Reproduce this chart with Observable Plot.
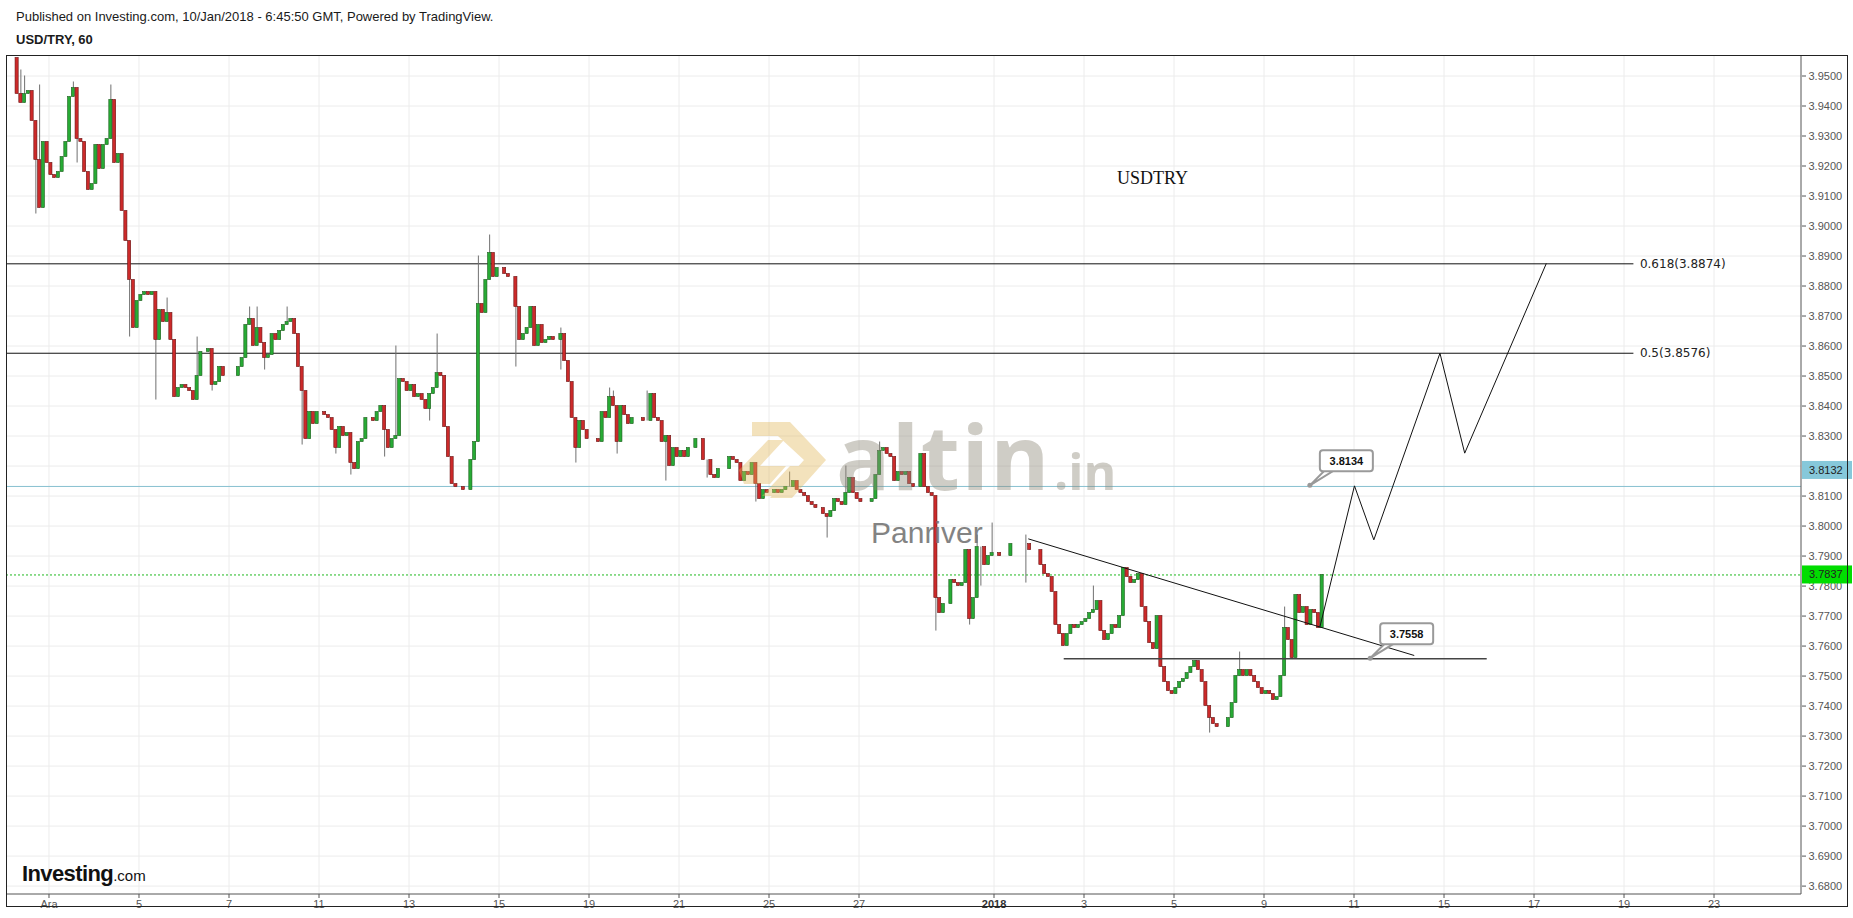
<!DOCTYPE html>
<html>
<head>
<meta charset="utf-8">
<script src="https://cdn.jsdelivr.net/npm/d3@7"></script>
<script src="https://cdn.jsdelivr.net/npm/@observablehq/plot@0.6"></script>
<style>
  html,body{margin:0;padding:0;background:#fff;}
  body{position:relative;width:1853px;height:918px;overflow:hidden;font-family:"Liberation Sans",Arial,sans-serif;}
  #chart{position:absolute;left:0;top:0;}
  .hdr{position:absolute;left:16px;font-size:13px;color:#1a1a1a;white-space:nowrap;}
  #frame{position:absolute;left:6px;top:55px;width:1840px;height:850px;border:1px solid #222;pointer-events:none;}
  #logo{position:absolute;left:22px;top:861px;color:#111;white-space:nowrap;}
</style>
</head>
<body>
<div id="chart"></div>
<div id="frame"></div>
<div class="hdr" style="top:9px">Published on Investing.com, 10/Jan/2018 - 6:45:50 GMT, Powered by TradingView.</div>
<div class="hdr" style="top:32px;font-weight:bold">USD/TRY, 60</div>
<div id="logo"><span style="font-weight:bold;font-size:22px;letter-spacing:-0.6px">Investing</span><span style="font-size:15px">.com</span></div>
<script>
// ---------- DATA ----------
// x axis: trading-day index (weekends removed), 0 = 1 Dec 2017
const tickDays   = [0, 2, 4, 6, 8, 10, 12, 14, 16, 18, 21, 23, 25, 27, 29, 31, 33, 35, 37];
const tickLabels = ["Ara","5","7","11","13","15","19","21","25","27","2018","3","5","9","11","15","17","19","23"];
const priceTicks = [3.68,3.69,3.70,3.71,3.72,3.73,3.74,3.75,3.76,3.77,3.78,3.79,3.80,3.81,3.82,3.83,3.84,3.85,3.86,3.87,3.88,3.89,3.90,3.91,3.92,3.93,3.94,3.95];
const hiddenTick = 3.82; // covered by the 3.8132 price box

// 2-hour candles, first one starts 30 Nov 06:00 (day -0.75)
const firstDay = -0.75;
const firstOpen = 3.956;
const closes = [
  3.944,3.941,3.944,3.945,3.935,3.922,3.906,3.928,3.921,                   // 30 Nov
  3.917,3.916,3.918,3.923,3.928,3.943,3.946,3.929,3.928,3.918,3.912,3.914, // 1 Dec
  3.927,3.919,3.927,3.929,3.942,3.921,3.924,3.905,3.895,3.882,3.866,3.875, // 4
  3.877,3.878,3.877,3.878,3.862,3.872,3.868,3.871,3.862,3.843,3.846,3.847, // 5
  3.846,3.845,3.842,3.850,3.858,3.858,3.859,3.847,3.848,3.853,3.850,3.850, // 6
  3.850,3.850,3.853,3.856,3.867,3.869,3.860,3.866,3.861,3.856,3.857,3.864, // 7
  3.862,3.865,3.867,3.868,3.869,3.864,3.853,3.845,3.829,3.838,3.834,3.838, // 8
  3.838,3.837,3.836,3.832,3.826,3.833,3.830,3.831,3.821,3.819,3.828,3.829, // 11
  3.836,3.836,3.835,3.838,3.840,3.832,3.826,3.829,3.830,3.849,3.848,3.845, // 12
  3.847,3.843,3.844,3.842,3.839,3.844,3.846,3.851,3.850,3.833,3.823,3.814, // 13
  3.813,3.813,3.812,3.812,3.822,3.828,3.874,3.871,3.882,3.891,3.883,3.886, // 14
  3.886,3.884,3.883,3.883,3.873,3.862,3.864,3.866,3.873,3.860,3.867,3.861, // 15
  3.862,3.863,3.862,3.862,3.864,3.855,3.848,3.836,3.826,3.835,3.832,3.829, // 18
  3.829,3.829,3.828,3.838,3.836,3.843,3.840,3.828,3.840,3.837,3.834,3.836, // 19
  3.836,3.836,3.835,3.835,3.844,3.836,3.835,3.828,3.830,3.820,3.826,3.823, // 20
  3.825,3.823,3.826,3.826,3.829,3.829,3.822,3.822,3.817,3.816,3.819,3.819, // 21
  3.819,3.823,3.822,3.821,3.815,3.818,3.817,3.821,3.814,3.809,3.812,3.811, // 22
  3.811,3.812,3.811,3.812,3.813,3.813,3.815,3.812,3.811,3.810,3.808,3.807, // 25
  3.806,3.806,3.804,3.803,3.805,3.809,3.808,3.807,3.811,3.816,3.811,3.809, // 26
  3.808,3.808,3.808,3.809,3.817,3.825,3.826,3.824,3.823,3.815,3.818,3.817, // 27
  3.818,3.814,3.813,3.813,3.824,3.813,3.811,3.810,3.776,3.771,3.774,3.774, // 28
  3.782,3.781,3.780,3.781,3.792,3.769,3.776,3.793,3.793,3.787,3.790,3.791, // 29
  3.791,3.790,3.790,3.790,3.794,3.794,3.794,3.794,3.794,3.792,3.792,3.792, // 1 Jan
  3.787,3.784,3.783,3.778,3.767,3.764,3.760,3.764,3.767,3.766,3.767,3.768, // 2
  3.769,3.771,3.772,3.775,3.765,3.762,3.764,3.767,3.766,3.770,3.786,3.783, // 3
  3.781,3.782,3.784,3.773,3.768,3.761,3.759,3.770,3.753,3.748,3.745,3.744, // 4
  3.746,3.748,3.749,3.751,3.753,3.755,3.752,3.748,3.740,3.736,3.734,3.733, // 5
  3.733,3.733,3.736,3.741,3.750,3.752,3.750,3.752,3.750,3.748,3.746,3.744, // 8
  3.745,3.744,3.742,3.743,3.750,3.766,3.762,3.756,3.777,3.771,3.773,3.767, // 9
  3.772,3.771,3.766,3.7837                                                  // 10 Jan
];
// notable wicks: [candle index, price]
const wickHigh = [[1,3.952],[2,3.950],[6,3.947],[15,3.948],[25,3.947],[40,3.876],[48,3.863],[62,3.873],[64,3.873],[72,3.873],[101,3.860],[112,3.864],[123,3.890],[126,3.897],[145,3.866],[158,3.846],[159,3.845],[168,3.845],[206,3.818],[221,3.820],[230,3.828],[256,3.797],[260,3.801],[269,3.797],[287,3.780],[326,3.758],[338,3.773]];
const wickLow  = [[5,3.904],[16,3.921],[30,3.863],[37,3.842],[52,3.845],[66,3.852],[76,3.827],[85,3.824],[89,3.817],[98,3.823],[110,3.835],[133,3.853],[145,3.852],[149,3.821],[160,3.824],[173,3.815],[184,3.816],[197,3.808],[216,3.796],[245,3.765],[254,3.767],[257,3.780],[269,3.781],[318,3.731],[340,3.7555]];

// drawings
const fibLevels = ["0.618", "0.5"];
const fibPrices = [3.8874, 3.8576];
const fibEndDay = 35.22;
const cyanLevel = 3.8132;
const lastPrice = 3.7837;
const trendDays = [21.77, 30.33];
const trendPrices = [3.7957, 3.7569];
const supportDays = [22.56, 31.96];
const supportPrice = 3.7558;
const projDays = [28.24, 29.01, 29.44, 30.91, 31.46, 33.27];
const projPrices = [3.7663, 3.8134, 3.7954, 3.8576, 3.8243, 3.8874];
const calloutDays = [28.03, 29.37];
const calloutPrices = [3.8134, 3.7558];
const titleDay = 24.52, titlePrice = 3.9159, titleText = "USDTRY";

// ---------- BUILD ----------
const xDomain = [-0.9444, 38.944];
const yDomain = [3.6772, 3.9565];
const hiMap = new Map(wickHigh), loMap = new Map(wickLow);
const bars = closes.map((c, i) => {
  const o = i ? closes[i - 1] : firstOpen;
  const t = firstDay + (i + 0.5) / 12;
  const hi = Math.max(o, c, hiMap.get(i) ?? -Infinity);
  const lo = Math.min(o, c, loMap.get(i) ?? Infinity);
  return {t, open: o, close: c, high: hi, low: lo, up: c >= o};
});
const fib = fibLevels.map((l, i) => ({level: l, price: fibPrices[i]}));
const trend = trendDays.map((d, i) => ({t: d, p: trendPrices[i]}));
const proj = projDays.map((d, i) => ({t: d, p: projPrices[i]}));
const labelByDay = new Map(tickDays.map((d, i) => [d, tickLabels[i]]));
const halfW = 0.035;

const plot = Plot.plot({
  width: 1853, height: 918,
  marginLeft: 6, marginRight: 52, marginTop: 56, marginBottom: 24,
  style: {fontFamily: "Liberation Sans, Arial, sans-serif", fontSize: "11px", color: "#555", background: "transparent", overflow: "visible"},
  x: {type: "linear", domain: xDomain, ticks: tickDays, tickFormat: d => labelByDay.get(d), tickSize: 4, tickPadding: 2, label: null},
  y: {type: "linear", domain: yDomain, axis: "right", ticks: priceTicks, tickFormat: d => Math.abs(d - hiddenTick) < 1e-9 ? "" : d.toFixed(4), tickSize: 4, tickPadding: 3, label: null},
  marks: [
    Plot.ruleX(tickDays, {stroke: "#ececec"}),
    Plot.ruleY(priceTicks, {stroke: "#ececec"}),
    Plot.ruleY(fib, {y: "price", x1: () => xDomain[0], x2: () => fibEndDay, stroke: "#111", strokeWidth: 1}),
    Plot.text(fib, {x: () => fibEndDay, y: "price", text: d => `${d.level}(${d.price.toFixed(4)})`, textAnchor: "start", dx: 6, fontSize: 12, fontFamily: "DejaVu Sans", fill: "#222"}),
    Plot.ruleY([cyanLevel], {stroke: "#86c0d0", strokeWidth: 1}),
    Plot.ruleY([lastPrice], {stroke: "#1fb81f", strokeWidth: 1, strokeDasharray: "2,2"}),
    Plot.ruleX(bars, {x: "t", y1: "low", y2: "high", stroke: "#707070", strokeWidth: 1}),
    Plot.rect(bars, {x1: d => d.t - halfW, x2: d => d.t + halfW, y1: "open", y2: "close",
      fill: d => d.up ? "#27ab35" : "#cc2a2a", stroke: d => d.up ? "#1d5e1d" : "#6b1414", strokeWidth: 0.6}),
    Plot.line(trend, {x: "t", y: "p", stroke: "#111", strokeWidth: 1}),
    Plot.ruleY([supportPrice], {x1: () => supportDays[0], x2: () => supportDays[1], stroke: "#444", strokeWidth: 1.5}),
    Plot.line(proj, {x: "t", y: "p", stroke: "#111", strokeWidth: 1}),
    Plot.text([titleText], {x: () => titleDay, y: () => titlePrice, text: d => d, fontSize: 18, fontFamily: "Liberation Serif", fill: "#111"})
  ]
});
document.getElementById("chart").appendChild(plot);

const svg = d3.select(plot);
const sx = plot.scale("x"), sy = plot.scale("y");
svg.selectAll("text").filter(function() { return this.textContent === "2018"; }).attr("font-weight", "bold").attr("fill", "#333");

// axis separator lines
svg.append("line").attr("x1", sx.apply(xDomain[0])).attr("x2", sx.apply(xDomain[1])).attr("y1", sy.apply(yDomain[0])).attr("y2", sy.apply(yDomain[0])).attr("stroke", "#555");
svg.append("line").attr("x1", sx.apply(xDomain[1])).attr("x2", sx.apply(xDomain[1])).attr("y1", sy.apply(yDomain[0])).attr("y2", sy.apply(yDomain[1])).attr("stroke", "#555");

// right-axis price boxes
function priceBox(price, fill, dy) {
  const y = sy.apply(price) + dy, x = sx.apply(xDomain[1]);
  const g = svg.append("g");
  g.append("rect").attr("x", x + 1).attr("y", y - 9).attr("width", 50).attr("height", 18).attr("fill", fill);
  g.append("text").attr("x", x + 8).attr("y", y).attr("dy", "0.35em").attr("text-anchor", "start").attr("font-size", 11).attr("fill", "#222").text(price.toFixed(4));
}
priceBox(cyanLevel, "#86c8da", -16);
priceBox(lastPrice, "#00dd00", 0);

// callouts
calloutDays.forEach((d, i) => {
  const px = sx.apply(d), py = sy.apply(calloutPrices[i]);
  const g = svg.append("g");
  g.append("path").attr("d", `M${px},${py} L${px + 16},${py - 16} L${px + 26},${py - 16} Z`).attr("fill", "#fff").attr("stroke", "#999").attr("stroke-width", 2);
  g.append("rect").attr("x", px + 10).attr("y", py - 35).attr("width", 53).attr("height", 21).attr("rx", 3).attr("fill", "#fff").attr("stroke", "#9a9a9a").attr("stroke-width", 2);
  g.append("circle").attr("cx", px).attr("cy", py).attr("r", 2.5).attr("fill", "#999");
  g.append("text").attr("x", px + 36.5).attr("y", py - 24.5).attr("dy", "0.35em").attr("text-anchor", "middle").attr("font-size", 11).attr("font-weight", "bold").attr("fill", "#111").text(calloutPrices[i].toFixed(4));
});

// watermark
const wm = svg.append("g").attr("pointer-events", "none").attr("text-anchor", "start");
const gold = wm.append("g").attr("fill", "#e2b75a").attr("opacity", 0.4);
gold.append("path").attr("d", "M752,422 L790,422 L826,460 L792,498 L770,498 L804,460 L778,436 L752,436 Z");
gold.append("path").attr("d", "M739,470 L768,440 L784,440 L760,466 L786,466 L770,484 L744,484 Z");
gold.append("path").attr("d", "M762,496 L790,466 L806,466 L782,496 Z");
wm.append("text").attr("x", 836).attr("y", 490).attr("font-family", "Open Sans").attr("font-weight", "bold").attr("font-size", 90).attr("letter-spacing", 1.5).attr("fill", "#8f897a").attr("opacity", 0.42).text("altin");
wm.append("text").attr("x", 1054).attr("y", 490).attr("font-family", "Open Sans").attr("font-weight", "bold").attr("font-size", 50).attr("fill", "#8f897a").attr("opacity", 0.42).text(".in");
wm.append("text").attr("x", 871).attr("y", 543).attr("font-family", "Liberation Sans").attr("font-size", 30).attr("fill", "#6e6e6e").attr("opacity", 0.85).text("Panriver");
</script>
</body>
</html>
